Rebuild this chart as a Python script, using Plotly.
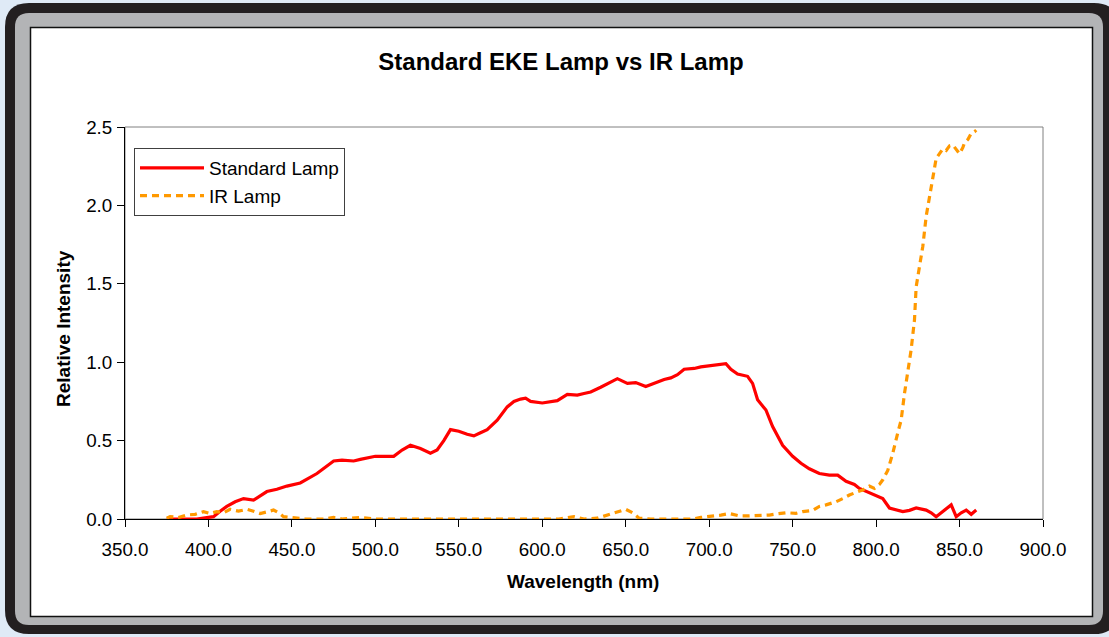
import plotly.graph_objects as go

# ---------------- data ----------------
wavelength_std = [375, 385, 393, 400, 403, 407, 411, 416, 421, 427, 431, 435, 441, 447, 455,
                  460, 465, 470, 475, 480, 487, 491, 495, 500, 505, 511, 516, 521, 527, 533,
                  537, 541, 545, 550, 555, 559, 563, 567, 573, 579, 583, 587, 590, 593, 600,
                  605, 609, 615, 621, 625, 629, 635, 640, 645, 651, 656, 662, 667, 673, 677,
                  681, 685, 691, 695, 699, 705, 710, 713, 717, 723, 726, 729, 734, 738, 744,
                  750, 755, 760, 766, 772, 777, 782, 787, 790, 795, 798, 804, 808, 812, 816,
                  820, 824, 830, 833, 836, 840, 845, 848, 851, 854, 857, 860]
intensity_std = [0.0, 0.0, 0.0, 0.01, 0.015, 0.05, 0.08, 0.11, 0.13, 0.12, 0.15, 0.175, 0.19, 0.21, 0.23,
                 0.26, 0.29, 0.33, 0.37, 0.375, 0.37, 0.38, 0.39, 0.40, 0.40, 0.40, 0.44, 0.47, 0.45, 0.42,
                 0.44, 0.50, 0.57, 0.56, 0.54, 0.53, 0.55, 0.57, 0.63, 0.715, 0.75, 0.765, 0.77, 0.75, 0.74,
                 0.75, 0.755, 0.795, 0.79, 0.80, 0.81, 0.84, 0.87, 0.895, 0.865, 0.87, 0.845, 0.865, 0.89, 0.90,
                 0.92, 0.955, 0.96, 0.97, 0.975, 0.98, 0.99, 0.955, 0.925, 0.91, 0.865, 0.76, 0.695, 0.59, 0.47,
                 0.40, 0.355, 0.32, 0.29, 0.28, 0.28, 0.24, 0.22, 0.195, 0.17, 0.155, 0.13, 0.07, 0.06, 0.047,
                 0.055, 0.07, 0.057, 0.04, 0.015, 0.05, 0.09, 0.015, 0.04, 0.057, 0.03, 0.057]

wavelength_ir = [375, 377, 382, 387, 392, 397, 401, 405, 409, 413, 418, 423, 427, 431, 435,
                 439, 442, 445, 449, 453, 458, 463, 470, 475, 480, 491, 500, 530, 560, 590,
                 603, 610, 619, 625, 633, 639, 645, 650, 654, 658, 665, 680, 690, 695, 701,
                 707, 712, 718, 724, 730, 736, 740, 746, 752, 756, 762, 766, 770, 776, 780,
                 784, 788, 792, 796, 799, 802, 804, 807, 810, 813, 815, 817, 819, 821, 823,
                 824, 826, 828, 830, 832, 834, 836, 838, 840, 842, 844, 846, 848, 850, 852,
                 853, 855, 857, 859, 860]
intensity_ir = [0.005, 0.015, 0.01, 0.025, 0.03, 0.047, 0.035, 0.047, 0.04, 0.062, 0.05, 0.062, 0.05, 0.035, 0.045,
                0.057, 0.04, 0.015, 0.01, 0.005, 0.0, 0.0, 0.0, 0.01, 0.0, 0.01, 0.0, 0.0, 0.0, 0.0,
                0.005, 0.0, 0.015, 0.0, 0.005, 0.025, 0.047, 0.062, 0.04, 0.005, 0.0, 0.0, 0.0, 0.01, 0.015,
                0.025, 0.035, 0.02, 0.02, 0.02, 0.025, 0.032, 0.04, 0.036, 0.047, 0.055, 0.08, 0.09, 0.11, 0.13,
                0.153, 0.17, 0.185, 0.21, 0.195, 0.22, 0.25, 0.31, 0.42, 0.55, 0.63, 0.80, 0.95, 1.08, 1.27,
                1.48, 1.61, 1.74, 1.93, 2.06, 2.18, 2.30, 2.33, 2.36, 2.35, 2.38, 2.385, 2.36, 2.33, 2.37,
                2.40, 2.42, 2.46, 2.47, 2.48]

series_names = ["Standard Lamp", "IR Lamp"]
chart_title = "Standard EKE Lamp vs IR Lamp"
x_title = "Wavelength (nm)"
y_title = "Relative Intensity"

# ---------------- layout geometry ----------------
W, H = 1109, 637
L, R, T, B = 125, 1043, 127, 519   # plot area in pixels


def px(x):
    return (x - L) / (R - L)


def py(y):
    return (B - y) / (B - T)


def rounded(x0, y0, x1, y1, r):
    pts = [("M", [(x0 + r, y0)]), ("L", [(x1 - r, y0)]), ("Q", [(x1, y0), (x1, y0 + r)]),
           ("L", [(x1, y1 - r)]), ("Q", [(x1, y1), (x1 - r, y1)]), ("L", [(x0 + r, y1)]),
           ("Q", [(x0, y1), (x0, y1 - r)]), ("L", [(x0, y0 + r)]), ("Q", [(x0, y0), (x0 + r, y0)])]
    s = ""
    for cmd, ps in pts:
        s += cmd + " " + " ".join(f"{px(a):.5f},{py(b):.5f}" for a, b in ps) + " "
    return s + "Z"


FONT = "Liberation Sans, Arial, sans-serif"

fig = go.Figure()
fig.add_trace(go.Scatter(x=wavelength_std, y=intensity_std, mode="lines", name=series_names[0],
                         line=dict(color="#ff0000", width=3.2)))
fig.add_trace(go.Scatter(x=wavelength_ir, y=intensity_ir, mode="lines", name=series_names[1],
                         line=dict(color="#ff9900", width=3.2, dash="7px,5px")))

shapes = [
    dict(type="path", xref="paper", yref="paper", path=rounded(5, 3, 1118, 634, 24),
         fillcolor="#231f20", line=dict(width=0), layer="below"),
    dict(type="path", xref="paper", yref="paper", path=rounded(15, 13, 1103, 625, 14),
         fillcolor="#b3b4b6", line=dict(width=0), layer="below"),
    dict(type="rect", xref="paper", yref="paper", x0=px(30.5), x1=px(1092.5), y0=py(616.5), y1=py(27.5),
         fillcolor="white", line=dict(color="#111111", width=1.5), layer="below"),
    dict(type="rect", xref="paper", yref="paper", x0=0, x1=1, y0=0, y1=1,
         fillcolor="rgba(0,0,0,0)", line=dict(color="#808080", width=1), layer="below"),
]

axis_common = dict(showgrid=False, zeroline=False, showline=True, linecolor="#000000", linewidth=1,
                   ticks="outside", ticklen=7, tickcolor="#000000", tickwidth=1,
                   tickfont=dict(family=FONT, size=18.8, color="#000000"), tickformat=".1f")

fig.update_layout(
    width=W, height=H,
    margin=dict(l=L, r=W - R, t=T, b=H - B, pad=0),
    paper_bgcolor="#dfeaf6", plot_bgcolor="rgba(0,0,0,0)",
    font=dict(family=FONT, color="#000000"),
    title=dict(text=f"<b>{chart_title}</b>", x=561 / W, xanchor="center", xref="container",
               y=1 - 62 / H, yanchor="middle", yref="container",
               font=dict(family=FONT, size=24, color="#000000")),
    xaxis=dict(range=[350, 900], tick0=350, dtick=50, ticklabelstandoff=6, **axis_common),
    yaxis=dict(range=[0, 2.5], tick0=0, dtick=0.5, ticklabelstandoff=1, **axis_common),
    legend=dict(x=px(134), y=py(148), xanchor="left", yanchor="top", bgcolor="white",
                bordercolor="#404040", borderwidth=1, itemwidth=64,
                font=dict(family=FONT, size=19, color="#000000")),
    shapes=shapes,
    annotations=[
        dict(text=f"<b>{x_title}</b>", xref="paper", yref="paper", x=px(583), y=py(581),
             xanchor="center", yanchor="middle", showarrow=False,
             font=dict(family=FONT, size=19, color="#000000")),
        dict(text=f"<b>{y_title}</b>", xref="paper", yref="paper", x=px(63), y=py(328),
             xanchor="center", yanchor="middle", showarrow=False, textangle=-90,
             font=dict(family=FONT, size=19, color="#000000")),
    ],
)

# remove the default 8px page margin so the figure sits at the window's top-left corner
fig.write_html("out.html", config={"displayModeBar": False},
               post_script="document.body.style.margin='0';")
